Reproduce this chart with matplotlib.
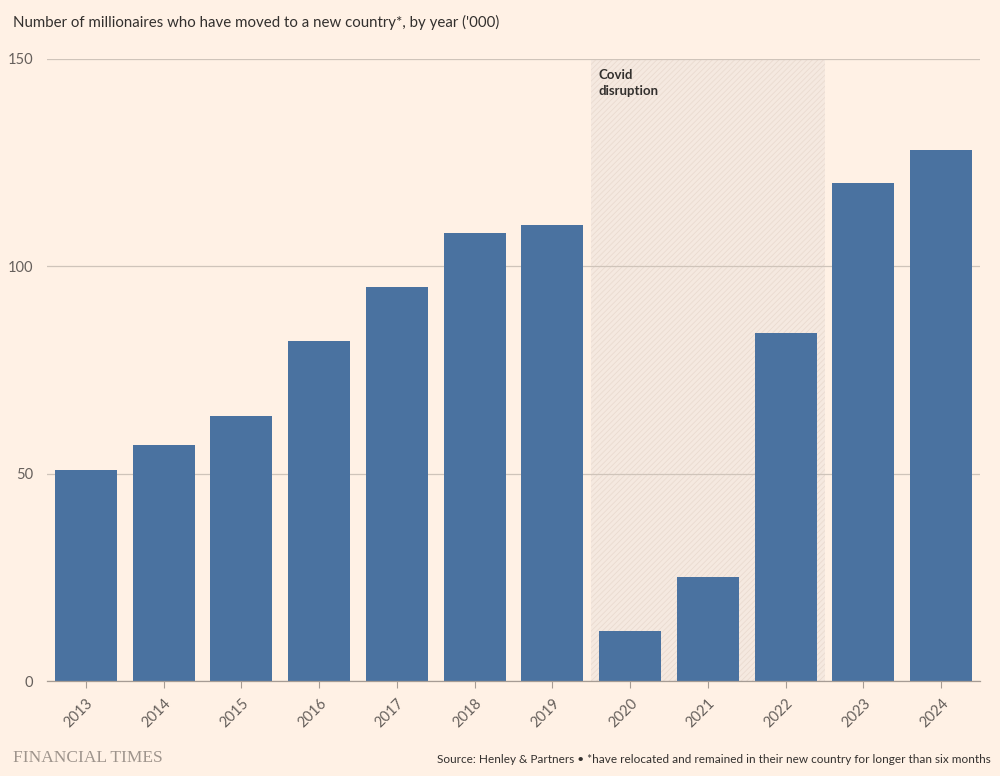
import matplotlib
matplotlib.use("Agg")
import matplotlib.pyplot as plt

years = ["2013", "2014", "2015", "2016", "2017", "2018", "2019", "2020", "2021", "2022", "2023", "2024"]
values = [51, 57, 64, 82, 95, 108, 110, 12, 25, 84, 120, 128]
yticks = [0, 50, 100, 150]
covid_start, covid_end = "2020", "2022"

BG = "#FFF1E5"
BAR = "#4A72A0"
GRID = "#CFC4BA"
TXT = "#33302E"
SUB = "#66605C"

plt.rcParams["font.family"] = ["Lato", "DejaVu Sans"]
plt.rcParams["hatch.linewidth"] = 0.6
plt.rcParams["hatch.color"] = "#EADBD0"

fig = plt.figure(figsize=(10, 7.76), dpi=100, facecolor=BG)
ax = fig.add_axes([0.047, 0.1224, 0.933, 0.8016], facecolor=BG)

x = list(range(len(years)))
i0 = years.index(covid_start)
i1 = years.index(covid_end)
ax.axvspan(i0 - 0.5, i1 + 0.5, ymin=0, ymax=1, facecolor="#F5E9E0", edgecolor="#EADBD0",
           hatch="//////", linewidth=0, zorder=0.5)

ax.bar(x, values, width=0.8, color=BAR, zorder=2)

ax.set_xlim(-0.5, len(years) - 0.5)
ax.set_ylim(0, 150)
ax.set_yticks(yticks)
ax.set_yticklabels([str(v) for v in yticks])
ax.yaxis.grid(True, color=GRID, linewidth=0.9, zorder=1)
ax.set_axisbelow(True)
ax.tick_params(axis="y", length=0, pad=10, labelsize=10.5, labelcolor=SUB)
ax.set_xticks(x)
ax.set_xticklabels(years, rotation=45, ha="right", rotation_mode="anchor")
ax.tick_params(axis="x", length=5, width=0.8, color="#A69C94", labelsize=10.5, labelcolor=SUB, pad=6)

for s in ["top", "right", "left"]:
    ax.spines[s].set_visible(False)
ax.spines["bottom"].set_color("#A69C94")
ax.spines["bottom"].set_linewidth(0.9)
ax.spines["bottom"].set_zorder(3)

ax.text(i0 - 0.41, 147.5, "Covid\ndisruption", ha="left", va="top", fontsize=9.5,
        color=TXT, fontweight="bold", linespacing=1.35, zorder=3)

fig.text(0.013, 0.981, "Number of millionaires who have moved to a new country*, by year ('000)",
         ha="left", va="top", fontsize=10.8, color=TXT)
fig.text(0.013, 0.023, "FINANCIAL TIMES", ha="left", va="center", fontsize=12.5,
         color="#9E948C", family=["Liberation Serif", "DejaVu Serif"])
fig.text(0.991, 0.021, "Source: Henley & Partners \u2022 *have relocated and remained in their new country for longer than six months",
         ha="right", va="center", fontsize=8.5, color=TXT)

fig.savefig("out.png", dpi=100, facecolor=BG)
